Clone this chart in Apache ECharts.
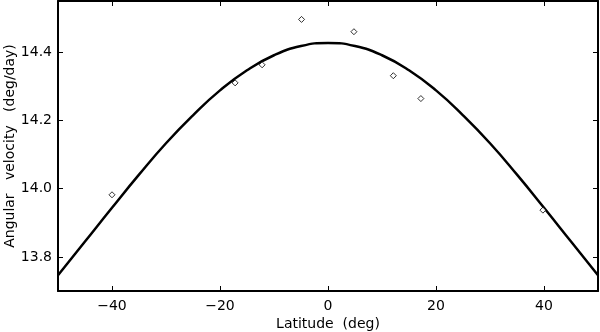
<!DOCTYPE html>
<html>
<head>
<meta charset="utf-8">
<script src="https://cdn.jsdelivr.net/npm/echarts@6/dist/echarts.min.js"></script>
<style>html,body{margin:0;padding:0;background:#fff}#c{width:600px;height:332px}</style>
</head>
<body>
<div id="c"></div>
<script>
// Observed data points (latitude deg, angular velocity deg/day)
const obsLat = [-40, -17.2, -12.2, -4.9, 4.8, 12.1, 17.2, 39.8];
const obsVel = [13.982, 14.310, 14.363, 14.496, 14.460, 14.331, 14.264, 13.937];
// Fitted curve
const fitLat = [-50, -45, -40, -35, -30, -25, -20, -15, -10, -5, 0, 5, 10, 15, 20, 25, 30, 35, 40, 45, 50];
const fitVel = [13.746, 13.845, 13.944, 14.041, 14.133, 14.215, 14.288, 14.347, 14.391, 14.418, 14.427,
                14.418, 14.391, 14.347, 14.288, 14.215, 14.133, 14.041, 13.944, 13.845, 13.746];
const xTicks = [-40, -20, 0, 20, 40];
const yTicks = [13.8, 14.0, 14.2, 14.4];

const FONT = 'DejaVu Sans';
const chart = echarts.init(document.getElementById('c'));
const pairs = (a, b) => a.map((v, i) => [v, b[i]]);
const lineStyle = { color: '#000', width: 2 };
const tickStyle = { inside: true, length: 5, lineStyle: { color: '#000', width: 1 } };

chart.setOption({
  animation: false,
  backgroundColor: '#fff',
  grid: { left: 58, right: 2, top: 1, bottom: 41, containLabel: false, outerBoundsMode: 'none' },
  xAxis: [{
    type: 'value', min: -50, max: 50, position: 'bottom',
    axisLine: { show: true, onZero: false, lineStyle },
    axisTick: Object.assign({ customValues: xTicks }, tickStyle),
    axisLabel: { customValues: xTicks, color: '#000', fontFamily: FONT, fontSize: 14, margin: 8,
      formatter: v => String(v).replace('-', '\u2212') },
    splitLine: { show: false },
    name: 'Latitude  (deg)', nameLocation: 'middle', nameGap: 26, nameMoveOverlap: false,
    nameTextStyle: { color: '#000', fontFamily: FONT, fontSize: 14 }
  }, {
    type: 'value', min: -50, max: 50, position: 'top',
    axisLine: { show: true, onZero: false, lineStyle },
    axisTick: Object.assign({ customValues: xTicks }, tickStyle),
    axisLabel: { show: false }, splitLine: { show: false }
  }],
  yAxis: [{
    type: 'value', min: 13.7, max: 14.55, position: 'left',
    axisLine: { show: true, onZero: false, lineStyle },
    axisTick: Object.assign({ customValues: yTicks }, tickStyle),
    axisLabel: { customValues: yTicks, color: '#000', fontFamily: FONT, fontSize: 14, margin: 6,
      formatter: v => v.toFixed(1) },
    splitLine: { show: false },
    name: 'Angular   velocity   (deg/day)', nameLocation: 'middle', nameGap: 48, nameMoveOverlap: false,
    nameTextStyle: { color: '#000', fontFamily: FONT, fontSize: 14, verticalAlign: 'middle', align: 'center' }
  }, {
    type: 'value', min: 13.7, max: 14.55, position: 'right',
    axisLine: { show: true, onZero: false, lineStyle },
    axisTick: Object.assign({ customValues: yTicks }, tickStyle),
    axisLabel: { show: false }, splitLine: { show: false }
  }],
  series: [{
    type: 'line', data: pairs(fitLat, fitVel), smooth: 0.5, showSymbol: false, symbol: 'none',
    lineStyle: { color: '#000', width: 2.5 }, z: 2
  }, {
    type: 'scatter', data: pairs(obsLat, obsVel), symbol: 'diamond', symbolSize: 6,
    itemStyle: { color: '#fff', borderColor: '#000', borderWidth: 1 }, z: 3
  }]
});
</script>
</body>
</html>
